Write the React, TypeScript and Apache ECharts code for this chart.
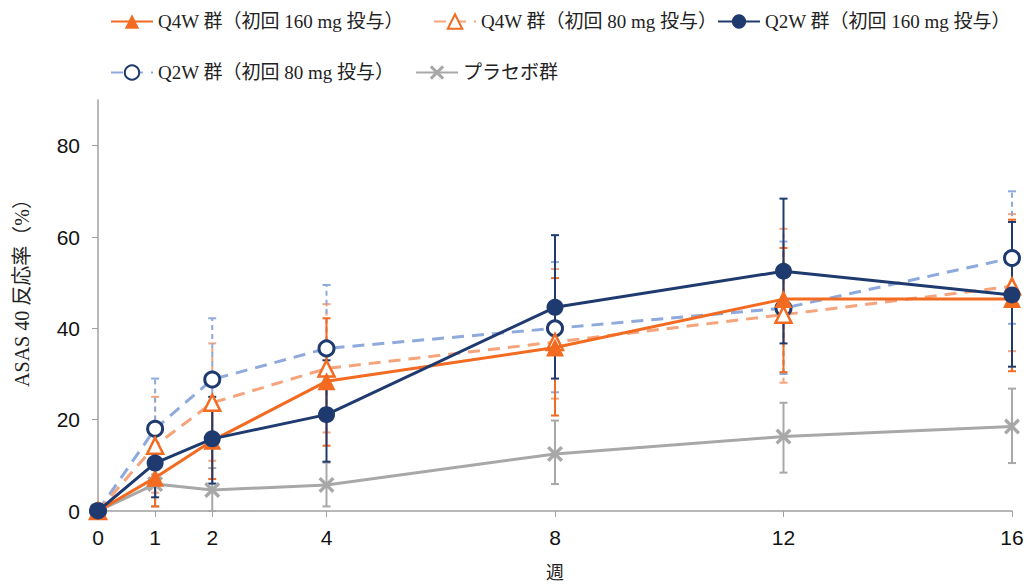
import React, { useEffect, useRef } from "react";
import * as echarts from "echarts";

const weeks = [0, 1, 2, 4, 8, 12, 16];
const tickWeeks = [0, 1, 2, 4, 8, 12, 16];
const yTicks = [0, 20, 40, 60, 80];

const q4w160 = [0, 7.3, 15.4, 28.4, 35.8, 46.4, 46.4];
const q4w160Low = [0, 1, 7, 14.3, 20.9, 30.4, 30.6];
const q4w160High = [0, 14, 24, 42.2, 51, 57.6, 63.8];

const q4w80 = [0, 14.3, 23.7, 31.2, 37, 43, 49.2];
const q4w80Low = [0, 4, 11, 17.2, 24.6, 28.1, 35];
const q4w80High = [0, 25, 36.7, 45.3, 53, 61.8, 65];

const q2w160 = [0, 10.5, 15.8, 21.1, 44.6, 52.5, 47.3];
const q2w160Low = [0, 3, 6, 10.8, 29, 36.7, 31.6];
const q2w160High = [0, 19, 25, 33, 60.4, 68.4, 63.3];

const q2w80 = [0, 18, 28.8, 35.6, 40, 44.4, 55.4];
const q2w80Low = [0, 8, 16, 21.5, 26, 30, 41];
const q2w80High = [0, 29, 42.2, 49.5, 54.5, 59, 70];

const placebo = [0, 5.9, 4.6, 5.7, 12.5, 16.3, 18.5];
const placeboLow = [0, 1, 0, 1, 5.9, 8.4, 10.5];
const placeboHigh = [0, 11, 9.4, 10.6, 19.8, 23.7, 26.8];

const names = [
  "Q4W 群（初回 160 mg 投与）",
  "Q4W 群（初回 80 mg 投与）",
  "Q2W 群（初回 160 mg 投与）",
  "Q2W 群（初回 80 mg 投与）",
  "プラセボ群",
];
const yName = "ASAS 40 反応率（%）";
const xName = "週";

const ORANGE = "#F26B21";
const ORANGE_LIGHT = "#F5A47C";
const NAVY = "#1F3A6E";
const BLUE_LIGHT = "#8EA9DB";
const GREY = "#A8A8A8";

const SERIF = '"Liberation Serif", "DejaVu Serif", "Noto Sans CJK JP", serif';
const SANS = '"Liberation Sans", Arial, sans-serif';

const xPath =
  "path://M0,1.5 L1.5,0 L5,3.5 L8.5,0 L10,1.5 L6.5,5 L10,8.5 L8.5,10 L5,6.5 L1.5,10 L0,8.5 L3.5,5 Z";

function pts(vals: number[]) {
  return weeks.map((w, i) => [w, vals[i]]);
}

function errSeries(lo: number[], hi: number[], color: string, dashed: boolean) {
  const data = weeks
    .map((w, i) => [w, lo[i], hi[i]])
    .filter((d) => d[0] !== 0);
  return {
    type: "custom",
    z: 1,
    silent: true,
    encode: { x: 0, y: [1, 2] },
    data,
    renderItem: (_params: any, api: any) => {
      const x = api.value(0);
      const p1 = api.coord([x, api.value(1)]);
      const p2 = api.coord([x, api.value(2)]);
      const w = 4;
      return {
        type: "group",
        children: [
          {
            type: "line",
            shape: { x1: p1[0], y1: p1[1], x2: p2[0], y2: p2[1] },
            style: { stroke: color, lineWidth: 2, lineDash: dashed ? [5, 4] : null },
          },
          {
            type: "line",
            shape: { x1: p1[0] - w, y1: p1[1], x2: p1[0] + w, y2: p1[1] },
            style: { stroke: color, lineWidth: 2 },
          },
          {
            type: "line",
            shape: { x1: p2[0] - w, y1: p2[1], x2: p2[0] + w, y2: p2[1] },
            style: { stroke: color, lineWidth: 2 },
          },
        ],
      };
    },
  };
}

export default function App() {
  const ref = useRef<HTMLDivElement>(null);
  useEffect(() => {
    if (!ref.current) return;
    const chart = echarts.init(ref.current, null, { renderer: "svg" });
    const legendText = { fontFamily: SERIF, fontSize: 19, color: "#222" };
    const legendPos = [
      [110, 12],
      [433, 12],
      [717, 12],
      [110, 63],
      [415, 63],
    ];
    const legends = names.map((n, i) => ({
      data: [n],
      left: legendPos[i][0],
      top: legendPos[i][1],
      padding: 0,
      itemWidth: 42,
      itemHeight: 18,
      textStyle: legendText,
    }));
    chart.setOption({
      animation: false,
      backgroundColor: "#fff",
      graphic: [
        {
          type: "text",
          x: 22,
          y: 288,
          rotation: Math.PI / 2,
          style: {
            text: yName,
            fontFamily: SERIF,
            fontSize: 20,
            fill: "#222",
            align: "center",
            verticalAlign: "middle",
          },
        },
      ],
      legend: legends,
      grid: {
        left: 98,
        right: 15,
        top: 100,
        bottom: 74,
        containLabel: false,
        outerBoundsMode: "none",
      },
      xAxis: {
        type: "value",
        min: 0,
        max: 16,
        name: xName,
        nameLocation: "middle",
        nameGap: 53,
        nameTextStyle: { fontFamily: SERIF, fontSize: 18, color: "#222" },
        axisLine: { show: true, lineStyle: { color: "#A0A0A0", width: 1.5 } },
        axisTick: {
          show: true,
          customValues: tickWeeks,
          length: 6,
          lineStyle: { color: "#A0A0A0" },
        },
        axisLabel: {
          customValues: tickWeeks,
          fontFamily: SANS,
          fontSize: 21,
          color: "#111",
          margin: 16,
        },
        splitLine: { show: false },
      },
      yAxis: {
        type: "value",
        min: 0,
        max: 90,
        axisLine: { show: true, lineStyle: { color: "#A0A0A0", width: 1.5 } },
        axisTick: {
          show: true,
          customValues: yTicks,
          length: 6,
          lineStyle: { color: "#A0A0A0" },
        },
        axisLabel: {
          customValues: yTicks,
          fontFamily: SANS,
          fontSize: 21,
          color: "#111",
          margin: 18,
        },
        splitLine: { show: false },
      },
      series: [
        errSeries(placeboLow, placeboHigh, GREY, false),
        errSeries(q4w80Low, q4w80High, ORANGE_LIGHT, true),
        errSeries(q2w80Low, q2w80High, BLUE_LIGHT, true),
        errSeries(q4w160Low, q4w160High, ORANGE, false),
        errSeries(q2w160Low, q2w160High, NAVY, false),
        {
          name: names[4],
          type: "line",
          z: 2,
          data: pts(placebo),
          symbol: xPath,
          symbolSize: 16,
          lineStyle: { color: GREY, width: 3 },
          itemStyle: { color: GREY },
        },
        {
          name: names[3],
          type: "line",
          z: 3,
          data: pts(q2w80),
          symbol: "circle",
          symbolSize: 15,
          lineStyle: { color: BLUE_LIGHT, width: 3, type: [12, 8] },
          itemStyle: { color: "#fff", borderColor: NAVY, borderWidth: 3 },
        },
        {
          name: names[1],
          type: "line",
          z: 3,
          data: pts(q4w80),
          symbol: "triangle",
          symbolSize: 16,
          lineStyle: { color: ORANGE_LIGHT, width: 3, type: [12, 8] },
          itemStyle: { color: "#fff", borderColor: ORANGE, borderWidth: 2.5 },
        },
        {
          name: names[0],
          type: "line",
          z: 4,
          data: pts(q4w160),
          symbol: "triangle",
          symbolSize: 18,
          lineStyle: { color: ORANGE, width: 3 },
          itemStyle: { color: ORANGE },
        },
        {
          name: names[2],
          type: "line",
          z: 4,
          data: pts(q2w160),
          symbol: "circle",
          symbolSize: 17,
          lineStyle: { color: NAVY, width: 3 },
          itemStyle: { color: NAVY },
        },
      ],
    });
    return () => chart.dispose();
  }, []);
  return <div ref={ref} style={{ width: 1027, height: 585, position: "absolute", left: 0, top: 0 }} />;
}
